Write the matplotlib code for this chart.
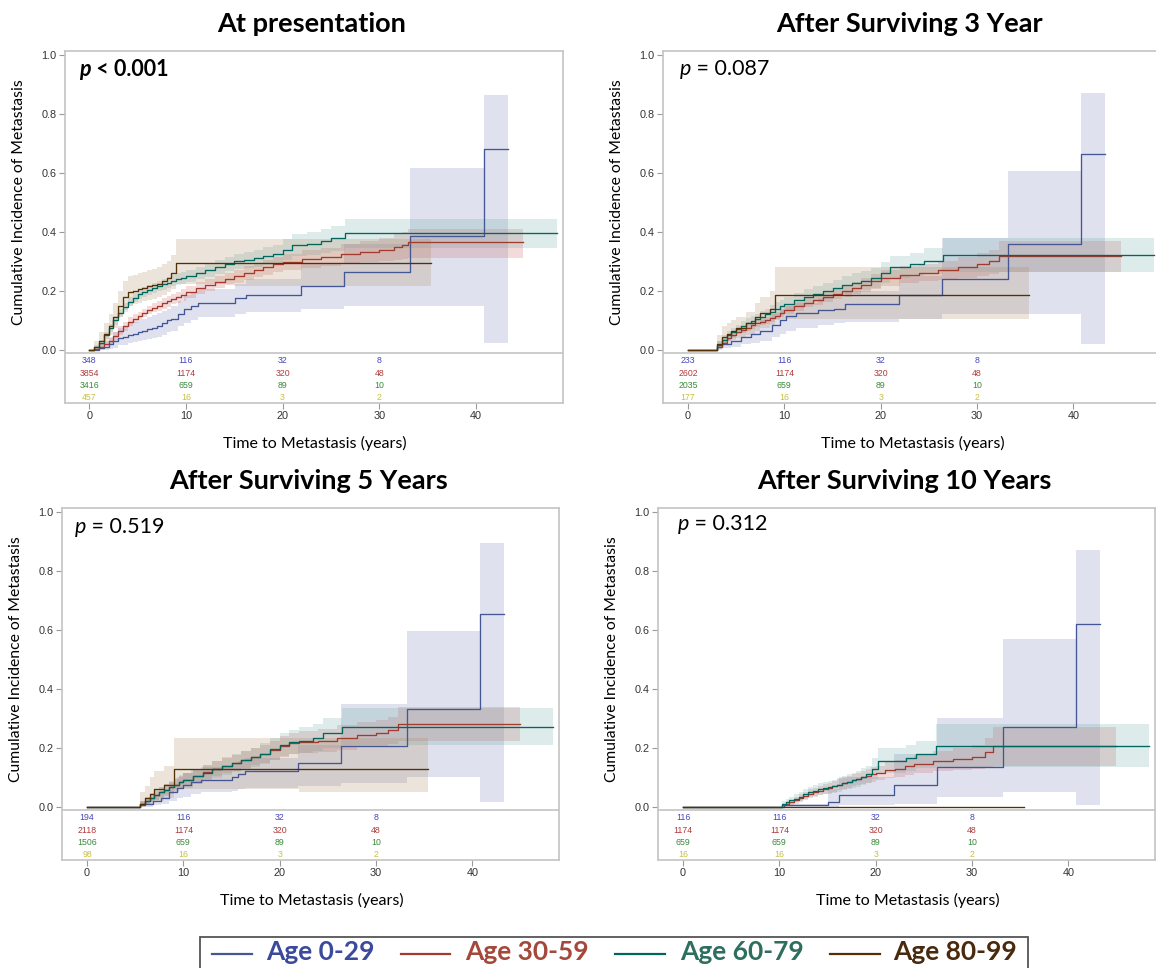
import numpy as np
import matplotlib.pyplot as plt
from matplotlib.patches import Rectangle
from matplotlib.lines import Line2D

W, H = 1156, 968

groups = ["Age 0-29", "Age 30-59", "Age 60-79", "Age 80-99"]
risk_times = [0, 10, 20, 30]
y_ticks = [0.0, 0.2, 0.4, 0.6, 0.8, 1.0]
x_ticks = [0, 10, 20, 30, 40]

# ---------- At presentation ----------
pres_029_t = [0, 1.0, 1.5, 2.0, 2.5, 3.0, 3.5, 4.0, 4.5, 5.0, 5.5, 6.0, 6.5, 7.0, 7.5, 8.0, 8.5, 9.2, 9.8, 10.5, 11.3, 15.1, 16.2, 21.9, 26.4, 33.2, 40.8, 43.3]
pres_029_y = [0, 0.005, 0.01, 0.02, 0.03, 0.04, 0.045, 0.05, 0.055, 0.06, 0.065, 0.07, 0.075, 0.08, 0.09, 0.10, 0.105, 0.12, 0.14, 0.15, 0.16, 0.175, 0.186, 0.215, 0.265, 0.385, 0.68, 0.68]
pres_029_lo = [0, 0, 0, 0.003, 0.008, 0.015, 0.018, 0.022, 0.026, 0.03, 0.033, 0.037, 0.041, 0.045, 0.052, 0.06, 0.065, 0.08, 0.09, 0.10, 0.11, 0.12, 0.13, 0.14, 0.15, 0.15, 0.025, 0.025]
pres_029_hi = [0, 0.02, 0.03, 0.045, 0.06, 0.075, 0.082, 0.09, 0.095, 0.10, 0.105, 0.11, 0.117, 0.125, 0.133, 0.14, 0.15, 0.165, 0.185, 0.195, 0.205, 0.225, 0.24, 0.29, 0.36, 0.615, 0.865, 0.865]

pres_3059_t = [0, 0.5, 1, 1.5, 2, 2.5, 3, 3.5, 4, 4.5, 5, 5.5, 6, 6.5, 7, 7.5, 8, 8.5, 9, 9.5, 10, 11, 12, 13, 14, 15, 16, 17, 18, 19, 20, 22, 24, 26, 28, 30, 31.5, 32.3, 33.0, 44.9]
pres_3059_y = [0, 0.004, 0.01, 0.02, 0.03, 0.047, 0.065, 0.08, 0.095, 0.105, 0.115, 0.125, 0.135, 0.143, 0.15, 0.158, 0.165, 0.172, 0.178, 0.186, 0.195, 0.21, 0.22, 0.23, 0.24, 0.25, 0.26, 0.27, 0.28, 0.29, 0.297, 0.307, 0.315, 0.325, 0.333, 0.34, 0.35, 0.355, 0.365, 0.365]
pres_3059_lo = [0, 0.001, 0.005, 0.012, 0.02, 0.035, 0.05, 0.065, 0.08, 0.09, 0.10, 0.11, 0.12, 0.127, 0.133, 0.14, 0.147, 0.154, 0.16, 0.167, 0.175, 0.19, 0.20, 0.21, 0.22, 0.228, 0.237, 0.246, 0.255, 0.264, 0.27, 0.278, 0.285, 0.292, 0.298, 0.30, 0.305, 0.308, 0.31, 0.31]
pres_3059_hi = [0, 0.008, 0.02, 0.03, 0.04, 0.06, 0.08, 0.095, 0.11, 0.12, 0.13, 0.14, 0.15, 0.159, 0.167, 0.175, 0.183, 0.19, 0.197, 0.206, 0.215, 0.23, 0.24, 0.25, 0.262, 0.272, 0.283, 0.294, 0.305, 0.316, 0.325, 0.337, 0.347, 0.36, 0.37, 0.38, 0.395, 0.40, 0.41, 0.41]

pres_6079_t = [0, 0.5, 1, 1.5, 2, 2.5, 3, 3.5, 4, 4.5, 5, 5.5, 6, 6.5, 7, 7.5, 8, 8.5, 9, 9.5, 10, 11, 12, 13, 14, 15, 16, 17, 18, 19, 20, 21, 22.5, 24, 25, 26.5, 48.4]
pres_6079_y = [0, 0.01, 0.025, 0.05, 0.075, 0.1, 0.125, 0.145, 0.163, 0.177, 0.188, 0.196, 0.203, 0.209, 0.215, 0.222, 0.228, 0.234, 0.24, 0.245, 0.25, 0.26, 0.27, 0.28, 0.29, 0.30, 0.305, 0.31, 0.318, 0.325, 0.34, 0.355, 0.36, 0.37, 0.38, 0.395, 0.395]
pres_6079_lo = [0, 0.005, 0.016, 0.038, 0.062, 0.086, 0.11, 0.13, 0.148, 0.162, 0.172, 0.18, 0.187, 0.192, 0.198, 0.204, 0.21, 0.215, 0.22, 0.225, 0.23, 0.24, 0.248, 0.257, 0.266, 0.274, 0.278, 0.282, 0.288, 0.294, 0.305, 0.318, 0.32, 0.328, 0.335, 0.345, 0.345]
pres_6079_hi = [0, 0.016, 0.035, 0.062, 0.088, 0.114, 0.14, 0.16, 0.178, 0.192, 0.204, 0.212, 0.22, 0.226, 0.232, 0.24, 0.246, 0.253, 0.26, 0.265, 0.27, 0.28, 0.292, 0.303, 0.314, 0.326, 0.332, 0.338, 0.348, 0.356, 0.375, 0.392, 0.40, 0.41, 0.42, 0.445, 0.445]

pres_8099_t = [0, 0.5, 1, 1.5, 2, 2.5, 3, 3.5, 4, 4.5, 5, 5.5, 6, 6.5, 7, 7.5, 8, 8.5, 9, 15, 35.4]
pres_8099_y = [0, 0.01, 0.03, 0.055, 0.08, 0.11, 0.15, 0.18, 0.195, 0.2, 0.205, 0.21, 0.215, 0.22, 0.225, 0.235, 0.245, 0.26, 0.295, 0.295, 0.295]
pres_8099_lo = [0, 0.002, 0.01, 0.03, 0.05, 0.075, 0.11, 0.135, 0.15, 0.155, 0.16, 0.165, 0.17, 0.174, 0.178, 0.187, 0.195, 0.205, 0.225, 0.215, 0.215]
pres_8099_hi = [0, 0.03, 0.06, 0.09, 0.12, 0.16, 0.2, 0.235, 0.25, 0.255, 0.26, 0.265, 0.27, 0.275, 0.28, 0.29, 0.3, 0.32, 0.375, 0.375, 0.375]

pres_risk = [[348, 116, 32, 8], [3854, 1174, 320, 48], [3416, 659, 89, 10], [457, 16, 3, 2]]

# ---------- After surviving 3 year ----------
s3_029_t = [0, 3.0, 3.5, 4.5, 5.5, 6.5, 7.5, 8.7, 9.5, 10.2, 11.2, 13.5, 15.2, 16.3, 21.9, 26.4, 33.2, 40.8, 43.3]
s3_029_y = [0, 0.01, 0.02, 0.03, 0.045, 0.055, 0.065, 0.085, 0.10, 0.115, 0.125, 0.135, 0.14, 0.155, 0.185, 0.24, 0.36, 0.665, 0.665]
s3_029_lo = [0, 0, 0.005, 0.01, 0.02, 0.025, 0.03, 0.045, 0.055, 0.065, 0.075, 0.085, 0.09, 0.095, 0.105, 0.12, 0.12, 0.02, 0.02]
s3_029_hi = [0, 0.03, 0.04, 0.05, 0.07, 0.085, 0.1, 0.12, 0.135, 0.15, 0.16, 0.175, 0.18, 0.2, 0.25, 0.38, 0.605, 0.87, 0.87]

s3_3059_t = [0, 3.0, 3.5, 4, 4.5, 5, 5.5, 6, 6.5, 7, 7.5, 8, 8.5, 9, 9.5, 10, 11, 12, 13, 14, 15, 16, 17, 18, 19, 20, 22, 24, 26, 28, 30, 31.2, 32.3, 45.0]
s3_3059_y = [0, 0.01, 0.025, 0.04, 0.05, 0.06, 0.068, 0.075, 0.083, 0.09, 0.095, 0.1, 0.108, 0.115, 0.125, 0.135, 0.148, 0.16, 0.17, 0.18, 0.19, 0.2, 0.21, 0.22, 0.232, 0.245, 0.255, 0.262, 0.27, 0.28, 0.29, 0.3, 0.317, 0.317]
s3_3059_lo = [0, 0.005, 0.015, 0.03, 0.04, 0.05, 0.058, 0.065, 0.072, 0.078, 0.083, 0.088, 0.095, 0.102, 0.111, 0.12, 0.133, 0.144, 0.153, 0.162, 0.171, 0.18, 0.189, 0.197, 0.207, 0.218, 0.226, 0.232, 0.238, 0.245, 0.252, 0.258, 0.265, 0.265]
s3_3059_hi = [0, 0.02, 0.035, 0.05, 0.06, 0.07, 0.078, 0.085, 0.094, 0.102, 0.107, 0.112, 0.12, 0.128, 0.139, 0.15, 0.163, 0.176, 0.187, 0.198, 0.209, 0.22, 0.231, 0.243, 0.257, 0.272, 0.284, 0.292, 0.302, 0.315, 0.328, 0.34, 0.37, 0.37]

s3_6079_t = [0, 3.0, 3.5, 4, 4.5, 5, 5.5, 6, 6.5, 7, 7.5, 8, 8.5, 9, 9.5, 10, 11, 12, 13, 14, 15, 16, 17, 18, 19, 20, 21, 23, 24.5, 26.5, 48.4]
s3_6079_y = [0, 0.015, 0.035, 0.05, 0.06, 0.07, 0.08, 0.09, 0.098, 0.105, 0.112, 0.12, 0.13, 0.14, 0.148, 0.155, 0.17, 0.18, 0.19, 0.2, 0.21, 0.22, 0.228, 0.235, 0.245, 0.262, 0.28, 0.29, 0.3, 0.32, 0.32]
s3_6079_lo = [0, 0.005, 0.02, 0.035, 0.045, 0.055, 0.064, 0.072, 0.08, 0.087, 0.093, 0.1, 0.109, 0.118, 0.125, 0.132, 0.146, 0.155, 0.164, 0.173, 0.182, 0.19, 0.197, 0.203, 0.211, 0.226, 0.242, 0.25, 0.258, 0.265, 0.265]
s3_6079_hi = [0, 0.03, 0.05, 0.065, 0.075, 0.085, 0.097, 0.108, 0.116, 0.123, 0.131, 0.14, 0.151, 0.162, 0.17, 0.178, 0.194, 0.205, 0.216, 0.227, 0.238, 0.25, 0.259, 0.267, 0.279, 0.298, 0.318, 0.33, 0.345, 0.38, 0.38]

s3_8099_t = [0, 3.0, 3.5, 4, 4.5, 5, 6, 7, 7.5, 8.5, 9, 35.4]
s3_8099_y = [0, 0.02, 0.045, 0.055, 0.065, 0.075, 0.09, 0.11, 0.125, 0.14, 0.185, 0.185]
s3_8099_lo = [0, 0.005, 0.02, 0.03, 0.035, 0.04, 0.05, 0.065, 0.075, 0.085, 0.105, 0.105]
s3_8099_hi = [0, 0.05, 0.08, 0.09, 0.1, 0.11, 0.13, 0.16, 0.18, 0.2, 0.28, 0.28]

s3_risk = [[233, 116, 32, 8], [2602, 1174, 320, 48], [2035, 659, 89, 10], [177, 16, 3, 2]]

# ---------- After surviving 5 years ----------
s5_029_t = [0, 5.5, 6.0, 6.8, 7.7, 8.5, 9.3, 10.0, 10.8, 11.8, 15.0, 15.7, 16.4, 21.9, 26.4, 33.2, 40.8, 43.3]
s5_029_y = [0, 0.005, 0.01, 0.02, 0.03, 0.05, 0.065, 0.075, 0.085, 0.09, 0.10, 0.11, 0.12, 0.15, 0.205, 0.333, 0.653, 0.653]
s5_029_lo = [0, 0, 0, 0.005, 0.01, 0.02, 0.03, 0.035, 0.045, 0.05, 0.055, 0.06, 0.065, 0.07, 0.08, 0.10, 0.015, 0.015]
s5_029_hi = [0, 0.02, 0.03, 0.04, 0.055, 0.08, 0.1, 0.115, 0.13, 0.135, 0.145, 0.155, 0.165, 0.21, 0.35, 0.595, 0.895, 0.895]

s5_3059_t = [0, 5.5, 6, 6.5, 7, 7.5, 8, 8.5, 9, 9.5, 10, 11, 12, 13, 14, 15, 16, 17, 18, 19, 20, 21, 22, 24, 26, 28, 30, 31.2, 32.3, 45.0]
s5_3059_y = [0, 0.01, 0.02, 0.03, 0.04, 0.05, 0.058, 0.067, 0.075, 0.083, 0.092, 0.105, 0.118, 0.13, 0.14, 0.15, 0.16, 0.17, 0.18, 0.192, 0.205, 0.215, 0.22, 0.225, 0.235, 0.245, 0.252, 0.26, 0.28, 0.28]
s5_3059_lo = [0, 0.002, 0.01, 0.017, 0.025, 0.033, 0.04, 0.048, 0.055, 0.062, 0.07, 0.082, 0.094, 0.105, 0.114, 0.123, 0.132, 0.141, 0.15, 0.16, 0.17, 0.178, 0.182, 0.186, 0.194, 0.202, 0.208, 0.214, 0.225, 0.225]
s5_3059_hi = [0, 0.02, 0.035, 0.045, 0.055, 0.066, 0.076, 0.086, 0.095, 0.104, 0.114, 0.128, 0.142, 0.155, 0.166, 0.177, 0.188, 0.199, 0.21, 0.224, 0.24, 0.252, 0.258, 0.264, 0.276, 0.288, 0.296, 0.306, 0.338, 0.338]

s5_6079_t = [0, 5.5, 6, 6.5, 7, 7.5, 8, 8.5, 9, 9.5, 10, 11, 12, 13, 14, 15, 16, 17, 18, 19, 20, 21, 22, 23.5, 24.5, 26.5, 48.4]
s5_6079_y = [0, 0.01, 0.02, 0.03, 0.04, 0.049, 0.057, 0.066, 0.075, 0.083, 0.09, 0.103, 0.115, 0.127, 0.138, 0.148, 0.158, 0.168, 0.18, 0.195, 0.21, 0.22, 0.225, 0.235, 0.25, 0.27, 0.27]
s5_6079_lo = [0, 0.002, 0.008, 0.015, 0.022, 0.029, 0.036, 0.044, 0.052, 0.059, 0.065, 0.077, 0.088, 0.099, 0.108, 0.117, 0.126, 0.135, 0.145, 0.158, 0.171, 0.179, 0.183, 0.19, 0.2, 0.21, 0.21]
s5_6079_hi = [0, 0.02, 0.035, 0.046, 0.058, 0.068, 0.078, 0.088, 0.098, 0.107, 0.115, 0.13, 0.142, 0.155, 0.168, 0.179, 0.19, 0.201, 0.215, 0.232, 0.25, 0.262, 0.27, 0.28, 0.3, 0.335, 0.335]

s5_8099_t = [0, 5.5, 6, 6.5, 7, 8, 9, 22, 35.4]
s5_8099_y = [0, 0.01, 0.03, 0.045, 0.06, 0.075, 0.128, 0.128, 0.128]
s5_8099_lo = [0, 0, 0.005, 0.01, 0.02, 0.03, 0.06, 0.052, 0.052]
s5_8099_hi = [0, 0.05, 0.07, 0.1, 0.12, 0.14, 0.235, 0.235, 0.235]

s5_risk = [[194, 116, 32, 8], [2118, 1174, 320, 48], [1506, 659, 89, 10], [98, 16, 3, 2]]

# ---------- After surviving 10 years ----------
s10_029_t = [0, 10.5, 15.0, 16.2, 21.9, 26.4, 33.2, 40.8, 43.3]
s10_029_y = [0, 0.005, 0.015, 0.04, 0.075, 0.135, 0.27, 0.62, 0.62]
s10_029_lo = [0, 0, 0, 0.005, 0.01, 0.035, 0.05, 0.005, 0.005]
s10_029_hi = [0, 0.01, 0.06, 0.1, 0.18, 0.3, 0.57, 0.87, 0.87]

s10_3059_t = [0, 10.3, 10.7, 11, 11.5, 12, 12.5, 13, 13.5, 14, 14.5, 15, 15.5, 16, 16.5, 17, 17.5, 18, 18.5, 19, 19.5, 20, 21, 22, 23, 24, 26, 28, 30, 31.3, 32.2, 45.0]
s10_3059_y = [0, 0.005, 0.01, 0.015, 0.022, 0.03, 0.038, 0.045, 0.05, 0.055, 0.06, 0.065, 0.07, 0.075, 0.08, 0.085, 0.09, 0.095, 0.1, 0.105, 0.11, 0.115, 0.125, 0.13, 0.137, 0.145, 0.155, 0.163, 0.17, 0.185, 0.205, 0.205]
s10_3059_lo = [0, 0, 0.002, 0.005, 0.011, 0.018, 0.024, 0.03, 0.035, 0.04, 0.044, 0.048, 0.052, 0.057, 0.061, 0.065, 0.07, 0.074, 0.078, 0.082, 0.086, 0.09, 0.098, 0.102, 0.108, 0.114, 0.12, 0.126, 0.13, 0.135, 0.14, 0.14]
s10_3059_hi = [0, 0.01, 0.018, 0.025, 0.033, 0.042, 0.051, 0.06, 0.065, 0.07, 0.076, 0.082, 0.088, 0.093, 0.099, 0.105, 0.11, 0.116, 0.122, 0.128, 0.134, 0.14, 0.152, 0.158, 0.166, 0.176, 0.19, 0.2, 0.21, 0.235, 0.27, 0.27]

s10_6079_t = [0, 10.3, 10.7, 11, 11.5, 12, 12.5, 13, 13.5, 14, 14.5, 15, 15.5, 16, 16.5, 17, 17.5, 18, 18.5, 19, 19.6, 20.2, 23.1, 24.2, 26.3, 48.4]
s10_6079_y = [0, 0.01, 0.016, 0.022, 0.028, 0.035, 0.043, 0.05, 0.055, 0.06, 0.063, 0.066, 0.07, 0.075, 0.08, 0.085, 0.09, 0.095, 0.102, 0.11, 0.13, 0.155, 0.165, 0.18, 0.205, 0.205]
s10_6079_lo = [0, 0.002, 0.006, 0.01, 0.015, 0.02, 0.026, 0.032, 0.036, 0.04, 0.042, 0.045, 0.048, 0.052, 0.056, 0.06, 0.064, 0.068, 0.074, 0.08, 0.095, 0.115, 0.122, 0.133, 0.135, 0.135]
s10_6079_hi = [0, 0.02, 0.028, 0.035, 0.042, 0.05, 0.059, 0.068, 0.074, 0.08, 0.084, 0.087, 0.092, 0.098, 0.104, 0.11, 0.116, 0.122, 0.131, 0.14, 0.165, 0.2, 0.21, 0.225, 0.28, 0.28]

s10_8099_t = [0, 35.4]
s10_8099_y = [0, 0]
s10_8099_lo = [0, 0]
s10_8099_hi = [0, 0]

s10_risk = [[116, 116, 32, 8], [1174, 1174, 320, 48], [659, 659, 89, 10], [16, 16, 3, 2]]

titles = ["At presentation", "After Surviving 3 Year", "After Surviving 5 Years", "After Surviving 10 Years"]
p_values = ["< 0.001", "= 0.087", "= 0.519", "= 0.312"]

# ---------- styling ----------
line_cols = ["#445694", "#A23A2E", "#01665E", "#543005"]
band_cols = ["#6F7EB3", "#D05B5B", "#66A5A0", "#A9865B"]
risk_cols = ["#4646c0", "#b03a3a", "#3a8a3a", "#c8c040"]
legend_cols = ["#3b4a9a", "#a5483c", "#2e6e5e", "#4a2a0c"]
spine_col = "#c4c4c4"
label_font = "Lato"
tick_font = "Liberation Sans"

panels = [
    dict(box=(65, 51, 563, 403), xlim=(-2.5, 49.0), title=titles[0], p=p_values[0], pbold=True,
         ppos=(79, 69), curves=[(pres_029_t, pres_029_y, pres_029_lo, pres_029_hi),
                                (pres_3059_t, pres_3059_y, pres_3059_lo, pres_3059_hi),
                                (pres_6079_t, pres_6079_y, pres_6079_lo, pres_6079_hi),
                                (pres_8099_t, pres_8099_y, pres_8099_lo, pres_8099_hi)], risk=pres_risk),
    dict(box=(663, 51, 1160, 403), xlim=(-2.6, 49.0), title=titles[1], p=p_values[1], pbold=False,
         ppos=(680, 69), curves=[(s3_029_t, s3_029_y, s3_029_lo, s3_029_hi),
                                 (s3_3059_t, s3_3059_y, s3_3059_lo, s3_3059_hi),
                                 (s3_6079_t, s3_6079_y, s3_6079_lo, s3_6079_hi),
                                 (s3_8099_t, s3_8099_y, s3_8099_lo, s3_8099_hi)], risk=s3_risk),
    dict(box=(62, 508, 559, 860), xlim=(-2.6, 49.0), title=titles[2], p=p_values[2], pbold=False,
         ppos=(75, 527), curves=[(s5_029_t, s5_029_y, s5_029_lo, s5_029_hi),
                                 (s5_3059_t, s5_3059_y, s5_3059_lo, s5_3059_hi),
                                 (s5_6079_t, s5_6079_y, s5_6079_lo, s5_6079_hi),
                                 (s5_8099_t, s5_8099_y, s5_8099_lo, s5_8099_hi)], risk=s5_risk),
    dict(box=(658, 508, 1155, 860), xlim=(-2.6, 49.0), title=titles[3], p=p_values[3], pbold=False,
         ppos=(678, 524), curves=[(s10_029_t, s10_029_y, s10_029_lo, s10_029_hi),
                                  (s10_3059_t, s10_3059_y, s10_3059_lo, s10_3059_hi),
                                  (s10_6079_t, s10_6079_y, s10_6079_lo, s10_6079_hi),
                                  (s10_8099_t, s10_8099_y, s10_8099_lo, s10_8099_hi)], risk=s10_risk),
]

risk_rows = [-0.037, -0.080, -0.122, -0.163]
ylim = (-0.18, 1.013)

fig = plt.figure(figsize=(W / 100, H / 100), dpi=100)

for pn in panels:
    left, top, right, bottom = pn["box"]
    ax = fig.add_axes([left / W, 1 - bottom / H, (right - left) / W, (bottom - top) / H])
    ax.set_xlim(*pn["xlim"])
    ax.set_ylim(*ylim)

    for k, (t, y, lo, hi) in enumerate(pn["curves"]):
        ax.fill_between(t, lo, hi, step="post", color=band_cols[k], alpha=0.22, lw=0)
    for k, (t, y, lo, hi) in enumerate(pn["curves"]):
        ax.step(t, y, where="post", color=line_cols[k], lw=0.95)

    # separator between plot and at-risk table
    ax.axhline(-0.009, color=spine_col, lw=1.2)
    for k, row in enumerate(pn["risk"]):
        for tt, n in zip(risk_times, row):
            ax.text(tt, risk_rows[k], str(n), color=risk_cols[k], fontsize=6.3,
                    family=tick_font, ha="center", va="center")

    ax.set_yticks(y_ticks)
    ax.set_yticklabels([f"{v:.1f}" for v in y_ticks])
    ax.set_xticks(x_ticks)
    ax.tick_params(direction="out", length=4, width=0.8, color="#9a9a9a",
                   labelsize=7.8, labelcolor="#333333", pad=2)
    for lab in ax.get_xticklabels() + ax.get_yticklabels():
        lab.set_family(tick_font)
    for s in ax.spines.values():
        s.set_color(spine_col)
        s.set_linewidth(1.2)

    # axis labels and titles placed in pixel positions
    y_mid = top + (ylim[1] - 0.5) / (ylim[1] - ylim[0]) * (bottom - top)
    fig.text((left - 46) / W, 1 - y_mid / H, "Cumulative Incidence of Metastasis",
             family=label_font, fontsize=11.3, rotation=90, ha="center", va="center")

    x0 = pn["xlim"][0]
    pxyr = (right - left) / (pn["xlim"][1] - pn["xlim"][0])
    cx = left + (23.3 - x0) * pxyr
    fig.text(cx / W, 1 - (bottom + 40) / H, "Time to Metastasis (years)", family=label_font,
             fontsize=11.5, ha="center", va="center")
    fig.text((left + (23.0 - x0) * pxyr) / W, 1 - (top - 27) / H, pn["title"], family=label_font,
             fontweight="bold", fontsize=19.5, ha="center", va="center")

    px, py = pn["ppos"]
    weight = "bold" if pn["pbold"] else "normal"
    ptxt = fig.text(px / W, 1 - py / H, "p", family=label_font, style="italic",
                    fontweight=weight, fontsize=15.5, ha="left", va="center")
    ax.annotate(" " + pn["p"], xy=(1, 0.5), xycoords=ptxt, family=label_font,
                fontweight=weight, fontsize=15.5, ha="left", va="center")

# legend box at the bottom
fig.add_artist(Rectangle((200 / W, 1 - 972 / H), 828 / W, 35 / H, transform=fig.transFigure,
                         fill=False, edgecolor="#555555", lw=1.3))
leg_line_x = [(212, 252), (401, 450), (615, 665), (830, 880)]
leg_text_x = [266, 465, 680, 893]
for k, g in enumerate(groups):
    x1, x2 = leg_line_x[k]
    fig.add_artist(Line2D([x1 / W, x2 / W], [1 - 954 / H, 1 - 954 / H], color=line_cols[k], lw=1.6))
    fig.text(leg_text_x[k] / W, 1 - 952 / H, g, family=label_font, fontweight="bold",
             fontsize=19, color=legend_cols[k], ha="left", va="center")

fig.savefig("out.png", dpi=100)
